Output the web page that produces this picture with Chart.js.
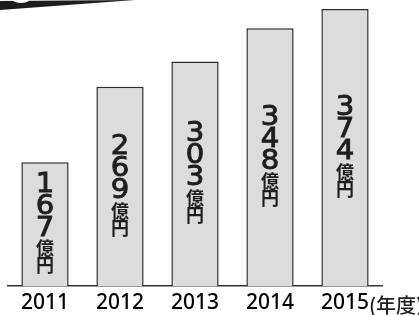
<!DOCTYPE html>
<html>
<head>
<meta charset="utf-8">
<script src="https://cdn.jsdelivr.net/npm/chart.js@4"></script>
<style>
    html, body { margin: 0; padding: 0; background: #ffffff; }
    #wrap { width: 419px; height: 315px; position: relative; }
</style>
</head>
<body>
<div id="wrap"><canvas id="salesChart"></canvas></div>
<script>
// Data
const years = ['2011', '2012', '2013', '2014', '2015'];
const amounts = [167, 269, 303, 348, 374];
const unitText = ['億', '円'];
const yearUnit = '(年度)';

// Vertical labels inside each bar + header decoration
const barTextPlugin = {
    id: 'barText',
    beforeDraw(chart) {
        const ctx = chart.ctx;
        ctx.save();
        // black band at top-left (partial header shape)
        ctx.fillStyle = '#1e1e1e';
        ctx.beginPath();
        ctx.moveTo(0, 1);
        ctx.lineTo(135, 0);
        ctx.lineTo(0, 10);
        ctx.closePath();
        ctx.fill();
        ctx.fillStyle = '#ffffff';
        ctx.beginPath();
        ctx.ellipse(21, 0, 8, 3, 0, 0, Math.PI * 2);
        ctx.fill();
        ctx.restore();
    },
    afterDatasetsDraw(chart) {
        const ctx = chart.ctx;
        const meta = chart.getDatasetMeta(0);
        ctx.save();
        ctx.fillStyle = '#1e1e1e';
        ctx.strokeStyle = '#1e1e1e';
        ctx.textAlign = 'center';
        ctx.textBaseline = 'middle';
        meta.data.forEach((bar, i) => {
            const digits = String(amounts[i]).split('');
            const digitStep = 22;
            const kanjiStep = 17;
            const total = digits.length * digitStep + unitText.length * kanjiStep;
            let y = (bar.y + bar.base) / 2 - total / 2;
            ctx.font = '26px "DejaVu Sans"';
            ctx.lineWidth = 0.9;
            digits.forEach(d => {
                ctx.save();
                ctx.translate(bar.x, y + digitStep / 2);
                ctx.scale(1.12, 1);
                ctx.fillText(d, 0, 0);
                ctx.strokeText(d, 0, 0);
                ctx.restore();
                y += digitStep;
            });
            ctx.font = 'bold 18px "Noto Sans CJK JP"';
            unitText.forEach(k => {
                ctx.fillText(k, bar.x, y + kanjiStep / 2);
                y += kanjiStep;
            });
        });
        // year unit next to the last label
        ctx.textAlign = 'left';
        ctx.font = '500 20px "Noto Sans CJK JP"';
        ctx.fillText(yearUnit, 369, 305);
        ctx.restore();
    }
};

const canvas = document.getElementById('salesChart');
const chart = new Chart(canvas.getContext('2d'), {
    type: 'bar',
    data: {
        labels: years,
        datasets: [{
            data: amounts,
            backgroundColor: '#dcdcdd',
            borderColor: '#2a2a2a',
            borderWidth: 1.5,
            barPercentage: 0.63,
            categoryPercentage: 1
        }]
    },
    options: {
        responsive: true,
        maintainAspectRatio: false,
        animation: false,
        layout: {
            padding: { left: 7.5, right: 36.5, top: 0, bottom: 0 }
        },
        plugins: {
            legend: { display: false },
            tooltip: { enabled: false }
        },
        scales: {
            y: {
                display: false,
                min: 0,
                max: 386
            },
            x: {
                afterFit: (scale) => { scale.height = 29; },
                grid: { display: false, drawTicks: false },
                border: { display: true, color: '#333333', width: 1.5 },
                ticks: {
                    color: '#000000',
                    padding: 7,
                    maxRotation: 0,
                    font: { family: '"Noto Sans"', size: 21, weight: '500', lineHeight: 1 }
                }
            }
        }
    },
    plugins: [barTextPlugin]
});
</script>
</body>
</html>
